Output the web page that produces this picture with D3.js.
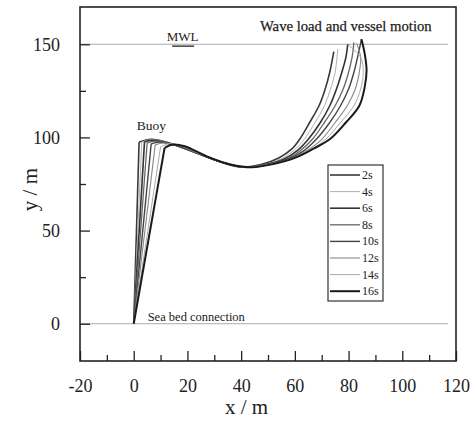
<!DOCTYPE html>
<html>
<head>
<meta charset="utf-8">
<script src="https://cdn.jsdelivr.net/npm/d3@7"></script>
<style>
  body { margin: 0; background: #fff; }
  text { font-family: "Liberation Serif", "Times New Roman", serif; fill: #222; }
</style>
</head>
<body>
<svg></svg>
<script>
"use strict";

// Data: riser snapshots, [x, y] in m, anchor -> buoy -> vessel
const labels = ["2s", "4s", "6s", "8s", "10s", "12s", "14s", "16s"];
const t2 = [[0,0],[2,97.5],[6.5,99],[12,97.5],[20,93.5],[30,88],[39,84.2],[47,85.3],[54,89],[59,94],[61.8,99],[65.5,108],[69,117],[71.3,126],[73,135],[74.5,146]];
const t4 = [[0,0],[3,97.5],[6.5,98.8],[13,97],[21,93],[31,87.5],[40,84],[48,85.3],[55,88.6],[60,93.5],[63.5,99],[67.5,108],[71,117],[73.3,126],[75,135],[76,147.5]];
const t6 = [[0,0],[4,97.5],[7,98.5],[14,96.5],[22,92.5],[32,87],[41,84],[49,85.4],[56,88.4],[61,93],[65,99],[69.5,108],[73,117],[75.5,126],[77.5,135],[79,143],[79.7,150]];
const t8 = [[0,0],[5,97],[8,98],[15,96],[23,92],[33,86.8],[42,84],[50,85.5],[57,88.3],[62,92.8],[66.5,99],[71,108],[75,117],[78,126],[80,135],[81.3,143],[82,151]];
const t10 = [[0,0],[6.5,96.5],[9.5,97.5],[16,95.5],[24,91.5],[33,86.5],[42,84],[50,85.5],[57,88.2],[63,92.5],[68,99],[73,108],[77,117],[80,126],[82,135],[83.5,144],[84.8,152.7]];
const t12 = [[0,0],[8,96],[11,97],[17,95.5],[25,91],[34,86.3],[43,84],[51,85.6],[58,88.2],[64,92.5],[70,99],[75,108],[79.5,117],[82.5,126],[84,135],[84.5,143],[83,150.5]];
const t14 = [[0,0],[10,95],[13,96.5],[18,95.5],[26,90.5],[35,86],[43,84],[51,85.6],[59,88.5],[65.5,93],[71.5,99],[77,108],[82,117],[84.5,126],[85.5,135],[84.5,143],[80,149.5]];
const t16 = [[0,0],[11.5,94.4],[14.5,96.2],[19,95.3],[27,90],[36,85.5],[44,84],[52,85.7],[60,89],[67,94],[73,99],[79,108],[84,117],[86,127],[86.7,136],[86,145],[84.8,152.7]];
const series = [t2, t4, t6, t8, t10, t12, t14, t16];

const xTicks = [-20, 0, 20, 40, 60, 80, 100, 120];
const yTicks = [0, 50, 100, 150];
const mwl = 150;
const seabed = 0;

// Styles
const strokes = ["#3a3a3a", "#b0b0b0", "#333", "#666", "#444", "#888", "#aaa", "#1a1a1a"];
const widths = [1.6, 1, 1.6, 1.3, 1.4, 1.1, 1, 2];

// Sizes
const W = 473, H = 421;
const margin = { l: 80, r: 17, t: 7, b: 60 };
const width = W - margin.l - margin.r;
const height = H - margin.t - margin.b;

const svg = d3.select("svg")
  .attr("width", W)
  .attr("height", H);

const g = svg.append("g")
  .attr("transform", `translate(${margin.l}, ${margin.t})`);

// Scales
const x = d3.scaleLinear().domain([-20, 120]).range([0, width]);
const y = d3.scaleLinear().domain([-20, 170]).range([height, 0]);

// Reference lines
[mwl, seabed].forEach(v => {
  g.append("line")
    .attr("x1", x(-20)).attr("x2", x(117))
    .attr("y1", y(v)).attr("y2", y(v))
    .attr("stroke", "#aaa")
    .attr("stroke-width", 1);
});

// Lines: straight riser segment, then smooth cable to vessel
const straight = d3.line().x(d => x(d[0])).y(d => y(d[1]));
const smooth = d3.line().x(d => x(d[0])).y(d => y(d[1])).curve(d3.curveCatmullRom.alpha(0.5));

series.forEach((s, i) => {
  const p = g.append("g")
    .attr("fill", "none")
    .attr("stroke", strokes[i])
    .attr("stroke-width", widths[i])
    .attr("stroke-linejoin", "round");
  p.append("path").attr("d", straight(s.slice(0, 2)));
  p.append("path").attr("d", smooth(s.slice(1)));
});

// Axes (ticks inside, left and bottom only)
const fmt = d => String(d);
g.append("g")
  .call(d3.axisLeft(y).tickValues(yTicks).tickSize(-10).tickPadding(20).tickFormat(fmt));
g.append("g")
  .call(d3.axisLeft(y).tickValues([25, 75, 125]).tickSize(-6).tickFormat(""));

const xAxis = g.append("g")
  .attr("transform", `translate(0, ${height})`)
  .call(d3.axisBottom(x).tickValues(xTicks).tickSize(-10).tickPadding(20).tickFormat(fmt));
g.append("g")
  .attr("transform", `translate(0, ${height})`)
  .call(d3.axisBottom(x).tickValues(d3.range(-10, 120, 20)).tickSize(-6).tickFormat(""));

g.selectAll(".domain").remove();
g.selectAll(".tick line").attr("stroke", "#222").attr("stroke-width", 1.3);
g.selectAll(".tick text")
  .style("font-family", "Liberation Serif")
  .style("font-size", "18px")
  .attr("fill", "#222");
xAxis.selectAll(".tick text").attr("dy", "0.6em");

// Frame
g.append("rect")
  .attr("width", width).attr("height", height)
  .attr("fill", "none")
  .attr("stroke", "#222")
  .attr("stroke-width", 1.6);

// Axis titles
svg.append("text")
  .attr("x", margin.l + x(42))
  .attr("y", 414)
  .attr("text-anchor", "middle")
  .style("font-size", "21px")
  .text("x / m");

svg.append("text")
  .attr("transform", `translate(37, ${margin.t + y(72)}) rotate(-90)`)
  .attr("text-anchor", "middle")
  .style("font-size", "21px")
  .text("y / m");

// Annotations
g.append("text")
  .attr("x", x(12.3)).attr("y", y(151.6))
  .style("font-size", "13px")
  .text("MWL");
g.append("line")
  .attr("x1", x(14.3)).attr("x2", x(22.5))
  .attr("y1", y(149)).attr("y2", y(149))
  .attr("stroke", "#222").attr("stroke-width", 1.3);

g.append("text")
  .attr("x", x(47)).attr("y", y(157))
  .style("font-size", "14.7px")
  .attr("stroke", "#222").attr("stroke-width", 0.25)
  .text("Wave load and vessel motion");

g.append("text")
  .attr("x", x(1.1)).attr("y", y(103.8))
  .style("font-size", "13.5px")
  .text("Buoy");

g.append("text")
  .attr("x", x(5.2)).attr("y", y(1.6))
  .style("font-size", "12.5px")
  .text("Sea bed connection");

// Legend
const lg = svg.append("g").attr("transform", "translate(328, 165)");
lg.append("rect")
  .attr("width", 55).attr("height", 136)
  .attr("fill", "#fff")
  .attr("stroke", "#333")
  .attr("stroke-width", 1.2);

labels.forEach((lab, i) => {
  const yy = 10 + i * 16.6;
  lg.append("line")
    .attr("x1", 2).attr("x2", 32)
    .attr("y1", yy).attr("y2", yy)
    .attr("stroke", strokes[i])
    .attr("stroke-width", widths[i]);
  lg.append("text")
    .attr("x", 34).attr("y", yy + 4)
    .style("font-size", "12px")
    .text(lab);
});
</script>
</body>
</html>
